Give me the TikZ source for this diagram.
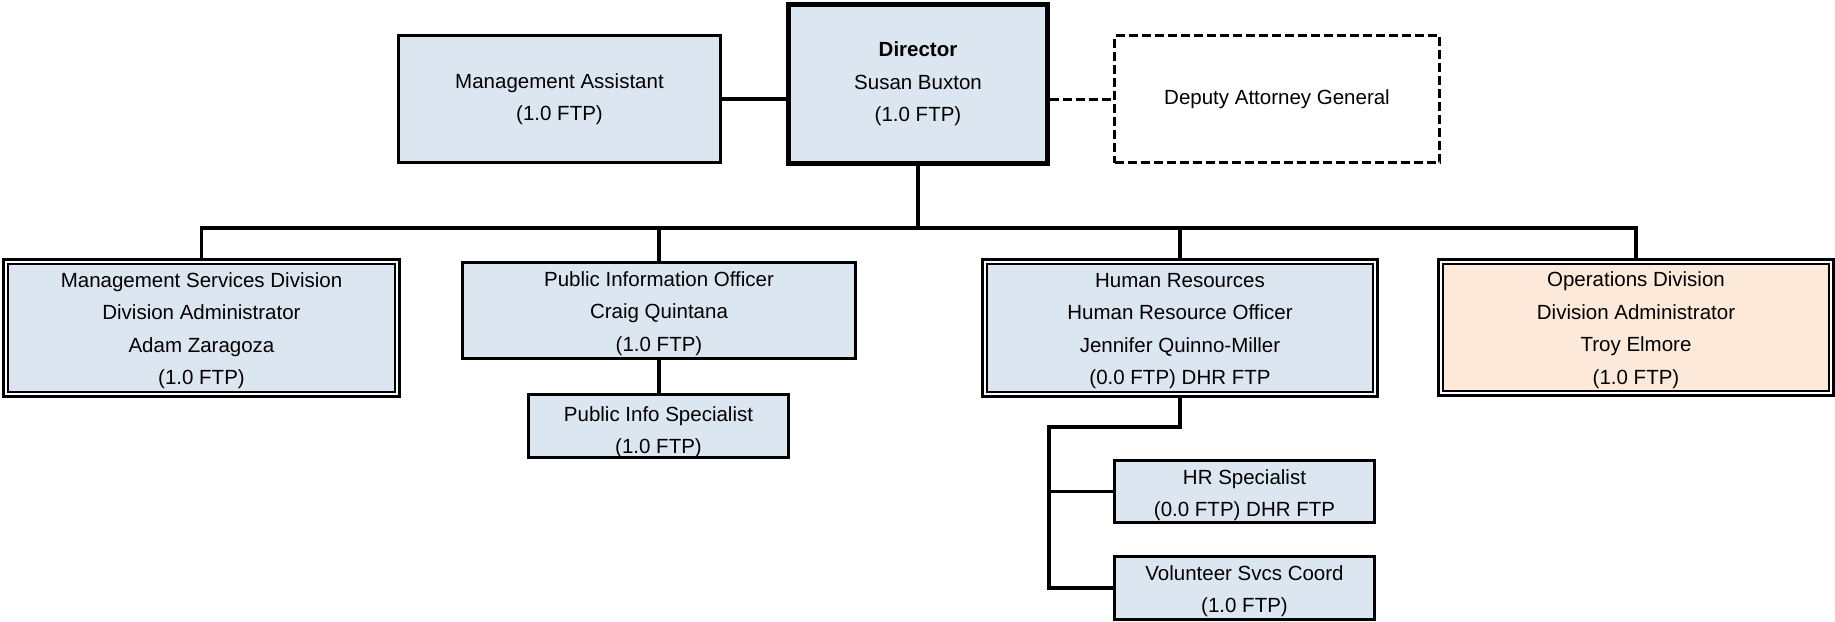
\documentclass[tikz,border=0pt]{standalone}
\usepackage{fontspec}
\setmainfont{Liberation Sans}
\definecolor{boxblue}{HTML}{DCE6F1}
\definecolor{peach}{HTML}{FDE9D9}
\newcommand{\boxfont}{\fontsize{20.5}{32.5}\selectfont}
\newcommand{\tsh}[1]{\rule{0pt}{#1pt}}
\begin{document}
\begin{tikzpicture}[x=1pt,y=-1pt,
  box/.style={draw=black, line width=3pt, fill=boxblue, rectangle, inner sep=0pt, align=center, font=\boxfont},
  dbox/.style={box, line width=2.7pt, double=white, double distance=2pt},
  dirbox/.style={box, line width=4.8pt},
  dashbox/.style={box, fill=white, line width=3pt, dash pattern=on 9pt off 4pt},
  conn/.style={draw=black, line width=3.2pt},
  dconn/.style={conn, line width=3pt, dash pattern=on 9pt off 4pt}]
\useasboundingbox (0,0) rectangle (1835,621);
% top row
\node[box, minimum width=322pt, minimum height=127pt] (MA) at (559.5,99) {Management Assistant\\(1.0 FTP)};
\node[dirbox, minimum width=259pt, minimum height=159pt] (Dir) at (918,84) {\textbf{Director}\\Susan Buxton\\(1.0 FTP)};
\node[dashbox, minimum width=325pt, minimum height=127pt] (DAG) at (1277,99) {Deputy Attorney General};
% second row
\node[dbox, minimum width=391.5pt, minimum height=132.5pt] (MSD) at (201.5,328) {\tsh{20.5}Management Services Division\\Division Administrator\\Adam Zaragoza\\(1.0 FTP)};
\node[box, minimum width=393pt, minimum height=96pt] (PIO) at (659,310.5) {\tsh{20.5}Public Information Officer\\Craig Quintana\\(1.0 FTP)};
\node[dbox, minimum width=390.5pt, minimum height=132.5pt] (HR) at (1180,328) {\tsh{20.5}Human Resources\\Human Resource Officer\\Jennifer Quinno-Miller\\(0.0 FTP) DHR FTP};
\node[dbox, fill=peach, minimum width=390.5pt, minimum height=131.5pt] (Ops) at (1636,327.5) {\tsh{20.5}Operations Division\\Division Administrator\\Troy Elmore\\(1.0 FTP)};
% third row
\node[box, minimum width=260pt, minimum height=63pt] (PIS) at (658.5,426) {\tsh{27}Public Info Specialist\\(1.0 FTP)};
\node[box, minimum width=260pt, minimum height=62pt] (HRS) at (1244.5,491.5) {\tsh{22.5}HR Specialist\\(0.0 FTP) DHR FTP};
\node[box, minimum width=260pt, minimum height=63pt] (VSC) at (1244.5,588) {\tsh{21.5}Volunteer Svcs Coord\\(1.0 FTP)};
% coordinates
\coordinate (bar) at (0,228);
\coordinate (hrk) at (1049,427);
% connectors
\draw[conn] (MA.east) -- (MA.east -| Dir.west);
\draw[dconn] (Dir.east |- DAG.west) -- (DAG.west);
\draw[conn] (Dir.south) -- (Dir.south |- bar);
\draw[conn] (MSD.north) -- (MSD.north |- bar) -- (Ops.north |- bar) -- (Ops.north);
\draw[conn] (PIO.north) -- (PIO.north |- bar);
\draw[conn] (HR.north) -- (HR.north |- bar);
\draw[conn] (PIO.south) -- (PIO.south |- PIS.north);
\draw[conn] (HR.south) |- (hrk) -- (hrk |- VSC.west) -- (VSC.west);
\draw[conn] (hrk |- HRS.west) -- (HRS.west);
\end{tikzpicture}
\end{document}
